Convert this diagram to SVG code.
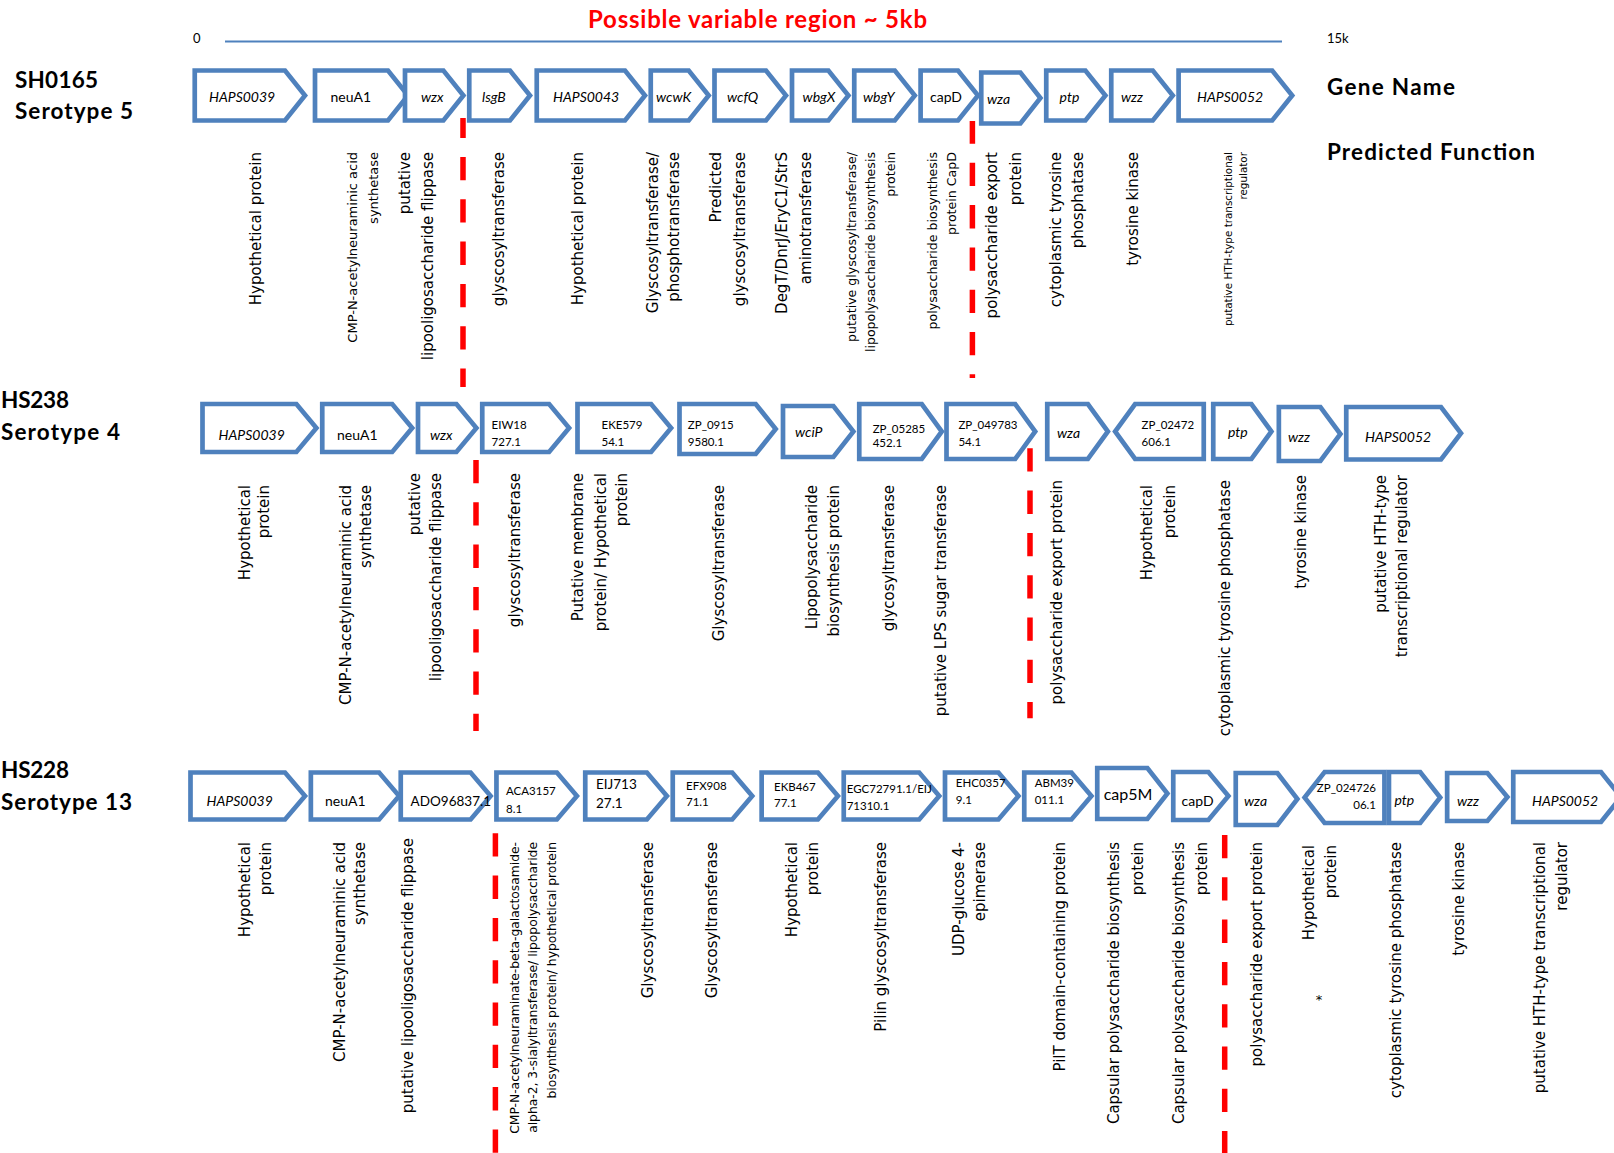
<svg xmlns="http://www.w3.org/2000/svg" width="1614" height="1153" viewBox="0 0 1614 1153">
<style>
.bg{fill:#fff}
.arr{fill:#fff;stroke:#4F81BD;stroke-width:4.7;stroke-linejoin:miter}
.gn{font-family:Lato,"Liberation Sans",sans-serif;font-size:14px;fill:#000}
.it{font-style:italic}
.id{font-size:11.5px}
.big{font-size:13.5px}
.fn{font-family:"DejaVu Sans",Verdana,sans-serif;font-size:15px;fill:#000;text-anchor:end}
.s13{font-size:13px}
.s126{font-size:12.6px}
.s123{font-size:12.3px}
.s104{font-size:10.4px}
.cut{stroke:#FF0000;stroke-width:5.5;fill:none;stroke-dasharray:23.3 19}
.hd{font-family:Lato,"Liberation Sans",sans-serif;font-weight:bold;font-size:22.5px;fill:#000}
.ax{font-family:Lato,"Liberation Sans",sans-serif;font-size:13px;fill:#000}
</style>
<rect class="bg" x="0" y="0" width="1614" height="1153"/>

<g id="header">
<text x="588" y="28" font-family="Lato, 'Liberation Sans', sans-serif" font-weight="bold" font-size="24" fill="#FF0000" textLength="339">Possible variable region ~ 5kb</text>
<text class="ax" x="193" y="43">0</text>
<text class="ax" x="1327" y="43">15k</text>
<text class="hd" x="1327" y="95" textLength="128">Gene Name</text>
<text class="hd" x="1327" y="160" textLength="208">Predicted Function</text>
<text class="hd" x="15" y="88" textLength="83">SH0165</text>
<text class="hd" x="15" y="119" textLength="118">Serotype 5</text>
<text class="hd" x="1" y="408" textLength="68">HS238</text>
<text class="hd" x="1" y="440" textLength="119">Serotype 4</text>
<text class="hd" x="1" y="778" textLength="68">HS228</text>
<text class="hd" x="1" y="810" textLength="131">Serotype 13</text>
</g>

<g id="connectors">
<line x1="225" y1="41.5" x2="1282" y2="41.5" stroke="#4F81BD" stroke-width="2"/>
<line class="cut" x1="463" y1="118" x2="463" y2="387" stroke-dashoffset="3.3"/>
<line class="cut" x1="972.4" y1="121" x2="972.4" y2="378" stroke-dashoffset="0.5"/>
<line class="cut" x1="476" y1="460" x2="476" y2="731"/>
<line class="cut" x1="1030" y1="448.3" x2="1030" y2="718.3"/>
<line class="cut" x1="495.4" y1="833.3" x2="495.4" y2="1153"/>
<line class="cut" x1="1224.7" y1="835" x2="1224.7" y2="1153"/>
</g>

<!-- Row 1 : SH0165 -->
<g id="r1-HAPS0039"><path class="arr" d="M194.75,70.5 H285 L305,95.5 L285,120.5 H194.75 Z"/><text class="gn it" x="209" y="102">HAPS0039</text><text class="fn" transform="translate(260.8,152) rotate(-90)">Hypothetical protein</text></g>
<g id="r1-neuA1"><path class="arr" d="M315,70.5 H388 L408,95.5 L388,120.5 H315 Z"/><text class="gn" x="330.5" y="102">neuA1</text><text class="fn s13" transform="translate(356.9,152) rotate(-90)">CMP-N-acetylneuraminic acid</text><text class="fn s13" transform="translate(377.8,152) rotate(-90)">synthetase</text></g>
<g id="r1-wzx"><path class="arr" d="M405,70.5 H443.4 L463.4,95.5 L443.4,120.5 H405 Z"/><text class="gn it" x="421" y="102">wzx</text><text class="fn" transform="translate(410,152) rotate(-90)">putative</text><text class="fn" transform="translate(433.4,152) rotate(-90)">lipooligosaccharide flippase</text></g>
<g id="r1-lsgB"><path class="arr" d="M469.25,70.5 H510 L530,95.5 L510,120.5 H469.25 Z"/><text class="gn it" x="482" y="102">lsgB</text><text class="fn" transform="translate(504,152) rotate(-90)">glyscosyltransferase</text></g>
<g id="r1-HAPS0043"><path class="arr" d="M536.75,70.5 H625 L645,95.5 L625,120.5 H536.75 Z"/><text class="gn it" x="553" y="102">HAPS0043</text><text class="fn" transform="translate(582.5,152) rotate(-90)">Hypothetical protein</text></g>
<g id="r1-wcwK"><path class="arr" d="M650.75,70.5 H688.7 L708.7,95.5 L688.7,120.5 H650.75 Z"/><text class="gn it" x="656" y="102">wcwK</text><text class="fn" transform="translate(658.3,152) rotate(-90)">Glyscosyltransferase/</text><text class="fn" transform="translate(679.2,152) rotate(-90)">phosphotransferase</text></g>
<g id="r1-wcfQ"><path class="arr" d="M714.5,70.5 H766 L786,95.5 L766,120.5 H714.5 Z"/><text class="gn it" x="727" y="102">wcfQ</text><text class="fn" transform="translate(721,152) rotate(-90)">Predicted</text><text class="fn" transform="translate(745,152) rotate(-90)">glyscosyltransferase</text></g>
<g id="r1-wbgX"><path class="arr" d="M792,70.5 H828.4 L848.4,95.5 L828.4,120.5 H792 Z"/><text class="gn it" x="802.6" y="102">wbgX</text><text class="fn" transform="translate(786.5,152) rotate(-90)">DegT/DnrJ/EryC1/StrS</text><text class="fn" transform="translate(810.5,152) rotate(-90)">aminotransferase</text></g>
<g id="r1-wbgY"><path class="arr" d="M854.25,70.5 H894.8 L914.8,95.5 L894.8,120.5 H854.25 Z"/><text class="gn it" x="863" y="102">wbgY</text><text class="fn s126" transform="translate(856.2,152) rotate(-90)">putative glyscosyltransferase/</text><text class="fn s126" transform="translate(875.2,152) rotate(-90)">lipopolysaccharide biosynthesis</text><text class="fn s126" transform="translate(894.7,152) rotate(-90)">protein</text></g>
<g id="r1-capD"><path class="arr" d="M920.6,70.5 H958 L978,95.5 L958,120.5 H920.6 Z"/><text class="gn" x="930" y="102">capD</text><text class="fn s126" transform="translate(936.9,152) rotate(-90)">polysaccharide biosynthesis</text><text class="fn s126" transform="translate(955.7,152) rotate(-90)">protein CapD</text></g>
<g id="r1-wza"><path class="arr" d="M981.25,72.5 H1020.4 L1040.4,98 L1020.4,123.5 H981.25 Z"/><text class="gn it" x="987" y="104">wza</text><text class="fn" transform="translate(997,152) rotate(-90)">polysaccharide export</text><text class="fn" transform="translate(1020.5,152) rotate(-90)">protein</text></g>
<g id="r1-ptp"><path class="arr" d="M1046.25,70.5 H1085.4 L1105.4,95.5 L1085.4,120.5 H1046.25 Z"/><text class="gn it" x="1059.6" y="102">ptp</text><text class="fn" transform="translate(1060.5,152) rotate(-90)">cytoplasmic tyrosine</text><text class="fn" transform="translate(1082.8,152) rotate(-90)">phosphatase</text></g>
<g id="r1-wzz"><path class="arr" d="M1111.25,70.5 H1152.8 L1172.8,95.5 L1152.8,120.5 H1111.25 Z"/><text class="gn it" x="1121" y="102">wzz</text><text class="fn" transform="translate(1138.3,152) rotate(-90)">tyrosine kinase</text></g>
<g id="r1-HAPS0052"><path class="arr" d="M1178.6,70.5 H1272.2 L1292.2,95.5 L1272.2,120.5 H1178.6 Z"/><text class="gn it" x="1197" y="102">HAPS0052</text><text class="fn s104" transform="translate(1231.7,152) rotate(-90)">putative HTH-type transcriptional</text><text class="fn s104" transform="translate(1247.4,152) rotate(-90)">regulator</text></g>

<!-- Row 2 : HS238 -->
<g id="r2-HAPS0039"><path class="arr" d="M202.5,404 H296.4 L316.4,428 L296.4,452 H202.5 Z"/><text class="gn it" x="218.6" y="440">HAPS0039</text><text class="fn" transform="translate(250.4,485) rotate(-90)">Hypothetical</text><text class="fn" transform="translate(268.7,485) rotate(-90)">protein</text></g>
<g id="r2-neuA1"><path class="arr" d="M322.25,404 H392.2 L412.2,428 L392.2,452 H322.25 Z"/><text class="gn" x="337" y="440">neuA1</text><text class="fn" transform="translate(351.3,485) rotate(-90)">CMP-N-acetylneuraminic acid</text><text class="fn" transform="translate(370.7,485) rotate(-90)">synthetase</text></g>
<g id="r2-wzx"><path class="arr" d="M418,404 H456.4 L476.4,428 L456.4,452 H418 Z"/><text class="gn it" x="430" y="440">wzx</text><text class="fn" transform="translate(420.4,473) rotate(-90)">putative</text><text class="fn" transform="translate(441.3,473) rotate(-90)">lipooligosaccharide flippase</text></g>
<g id="r2-EIW18727"><path class="arr" d="M482.25,404 H549.1 L569.1,428 L549.1,452 H482.25 Z"/><text class="gn id" x="491.6" y="429">EIW18</text><text class="gn id" x="491.6" y="446">727.1</text><text class="fn" transform="translate(519.7,473) rotate(-90)">glyscosyltransferase</text></g>
<g id="r2-EKE57954"><path class="arr" d="M577.5,404 H651.1 L671.1,428 L651.1,452 H577.5 Z"/><text class="gn id" x="601.5" y="429">EKE579</text><text class="gn id" x="601.5" y="446">54.1</text><text class="fn" transform="translate(582.5,473) rotate(-90)">Putative membrane</text><text class="fn" transform="translate(606,473) rotate(-90)">protein/ Hypothetical</text><text class="fn" transform="translate(627,473) rotate(-90)">protein</text></g>
<g id="r2-ZP09159580"><path class="arr" d="M679.5,404 H755.7 L775.7,429 L755.7,454 H679.5 Z"/><text class="gn id" x="687.8" y="429">ZP_0915</text><text class="gn id" x="687.8" y="446">9580.1</text><text class="fn" transform="translate(723.7,485) rotate(-90)">Glyscosyltransferase</text></g>
<g id="r2-wciP"><path class="arr" d="M783,406 H833.4 L853.4,431.5 L833.4,457 H783 Z"/><text class="gn it" x="795" y="437">wciP</text><text class="fn" transform="translate(817.3,485) rotate(-90)">Lipopolysaccharide</text><text class="fn" transform="translate(838.7,485) rotate(-90)">biosynthesis protein</text></g>
<g id="r2-ZP05285452"><path class="arr" d="M859.25,404 H921.8 L941.8,431.5 L921.8,459 H859.25 Z"/><text class="gn id" x="872.7" y="432.5">ZP_05285</text><text class="gn id" x="872.7" y="447">452.1</text><text class="fn" transform="translate(893.5,485) rotate(-90)">glycosyltransferase</text></g>
<g id="r2-ZP04978354"><path class="arr" d="M946.5,404 H1015.2 L1035.2,431.5 L1015.2,459 H946.5 Z"/><text class="gn id" x="958.4" y="429">ZP_049783</text><text class="gn id" x="958.4" y="446">54.1</text><text class="fn" transform="translate(945.6,485) rotate(-90)">putative LPS sugar transferase</text></g>
<g id="r2-wza"><path class="arr" d="M1047.25,404 H1087.9 L1107.9,431.5 L1087.9,459 H1047.25 Z"/><text class="gn it" x="1057" y="438">wza</text><text class="fn" transform="translate(1062,480) rotate(-90)">polysaccharide export protein</text></g>
<g id="r2-ZP02472606"><path class="arr" d="M1203.75,404 H1135.1 L1115.1,431.5 L1135.1,459 H1203.75 Z"/><text class="gn id" x="1141.6" y="429">ZP_02472</text><text class="gn id" x="1141.6" y="446">606.1</text><text class="fn" transform="translate(1151.8,485) rotate(-90)">Hypothetical</text><text class="fn" transform="translate(1174.7,485) rotate(-90)">protein</text></g>
<g id="r2-ptp"><path class="arr" d="M1213.25,404 H1251.4 L1271.4,431.5 L1251.4,459 H1213.25 Z"/><text class="gn it" x="1228" y="437">ptp</text><text class="fn" transform="translate(1229.7,480) rotate(-90)">cytoplasmic tyrosine phosphatase</text></g>
<g id="r2-wzz"><path class="arr" d="M1278.85,407 H1320.4 L1340.4,434 L1320.4,461 H1278.85 Z"/><text class="gn it" x="1288" y="442">wzz</text><text class="fn" transform="translate(1306,475) rotate(-90)">tyrosine kinase</text></g>
<g id="r2-HAPS0052"><path class="arr" d="M1346.25,407 H1441 L1461,433.25 L1441,459.5 H1346.25 Z"/><text class="gn it" x="1365" y="442">HAPS0052</text><text class="fn" transform="translate(1385.5,475) rotate(-90)">putative HTH-type</text><text class="fn" transform="translate(1407.3,475) rotate(-90)">transcriptional regulator</text></g>

<!-- Row 3 : HS228 -->
<g id="r3-HAPS0039"><path class="arr" d="M190.5,772.5 H285 L305,796 L285,819.5 H190.5 Z"/><text class="gn it" x="206.6" y="806">HAPS0039</text><text class="fn" transform="translate(250.4,842) rotate(-90)">Hypothetical</text><text class="fn" transform="translate(271.3,842) rotate(-90)">protein</text></g>
<g id="r3-neuA1"><path class="arr" d="M310.85,772.5 H379.1 L399.1,796 L379.1,819.5 H310.85 Z"/><text class="gn" x="325" y="806">neuA1</text><text class="fn" transform="translate(344.5,842) rotate(-90)">CMP-N-acetylneuraminic acid</text><text class="fn" transform="translate(365.4,842) rotate(-90)">synthetase</text></g>
<g id="r3-ADO968371"><path class="arr" d="M400.75,772.5 H470.6 L490.6,796 L470.6,819.5 H400.75 Z"/><text class="gn big" x="410.6" y="806">ADO96837.1</text><text class="fn" transform="translate(412.5,838) rotate(-90)">putative lipooligosaccharide flippase</text></g>
<g id="r3-ACA31578"><path class="arr" d="M496.45,772.5 H556.9 L576.9,796 L556.9,819.5 H496.45 Z"/><text class="gn id" x="506" y="795">ACA3157</text><text class="gn id" x="506" y="813">8.1</text><text class="fn s123" transform="translate(518.7,842) rotate(-90)">CMP-N-acetylneuraminate-beta-galactosamide-</text><text class="fn s123" transform="translate(537,842) rotate(-90)">alpha-2, 3-sialyltransferase/ lipopolysaccharide</text><text class="fn s123" transform="translate(556.4,842) rotate(-90)">biosynthesis protein/ hypothetical protein</text></g>
<g id="r3-EIJ71327"><path class="arr" d="M585.25,772.5 H646.9 L666.9,796 L646.9,819.5 H585.25 Z"/><text class="gn big" x="596" y="789">EIJ713</text><text class="gn big" x="596" y="808">27.1</text><text class="fn" transform="translate(653,842) rotate(-90)">Glyscosyltransferase</text></g>
<g id="r3-EFX90871"><path class="arr" d="M672.75,772.5 H732.2 L752.2,796 L732.2,819.5 H672.75 Z"/><text class="gn id" x="686" y="790">EFX908</text><text class="gn id" x="686" y="806">71.1</text><text class="fn" transform="translate(717.4,842) rotate(-90)">Glyscosyltransferase</text></g>
<g id="r3-EKB46777"><path class="arr" d="M761.65,772.5 H817.9 L837.9,796 L817.9,819.5 H761.65 Z"/><text class="gn id" x="774" y="791">EKB467</text><text class="gn id" x="774" y="807">77.1</text><text class="fn" transform="translate(797,842) rotate(-90)">Hypothetical</text><text class="fn" transform="translate(817.8,842) rotate(-90)">protein</text></g>
<g id="r3-EGC72791"><path class="arr" d="M843.75,772.5 H919.2 L939.2,796 L919.2,819.5 H843.75 Z"/><text class="gn id" x="846.7" y="793">EGC72791.1/EIJ</text><text class="gn id" x="846.7" y="810">71310.1</text><text class="fn" transform="translate(885.7,842) rotate(-90)">Pilin glyscosyltransferase</text></g>
<g id="r3-EHC03579"><path class="arr" d="M945,772.5 H998.4 L1018.4,796 L998.4,819.5 H945 Z"/><text class="gn id" x="955.8" y="787">EHC0357</text><text class="gn id" x="955.8" y="804">9.1</text><text class="fn" transform="translate(964,842) rotate(-90)">UDP-glucose 4-</text><text class="fn" transform="translate(984.6,842) rotate(-90)">epimerase</text></g>
<g id="r3-ABM39011"><path class="arr" d="M1024.25,772.5 H1071.4 L1091.4,796 L1071.4,819.5 H1024.25 Z"/><text class="gn id" x="1034.7" y="787">ABM39</text><text class="gn id" x="1034.7" y="804">011.1</text><text class="fn" transform="translate(1064.6,842) rotate(-90)">PilT domain-containing protein</text></g>
<g id="r3-cap5M"><path class="arr" d="M1097.25,768 H1147.4 L1167.4,793.5 L1147.4,819 H1097.25 Z"/><text class="gn" style="font-size:16px" x="1103.7" y="800">cap5M</text><text class="fn" transform="translate(1119,842) rotate(-90)">Capsular polysaccharide biosynthesis</text><text class="fn" transform="translate(1142.5,842) rotate(-90)">protein</text></g>
<g id="r3-capD"><path class="arr" d="M1173.25,772 H1208.4 L1228.4,796 L1208.4,820 H1173.25 Z"/><text class="gn" x="1181.6" y="806">capD</text><text class="fn" transform="translate(1184,842) rotate(-90)">Capsular polysaccharide biosynthesis</text><text class="fn" transform="translate(1207.4,842) rotate(-90)">protein</text></g>
<g id="r3-wza"><path class="arr" d="M1235.75,773 H1277.4 L1297.4,799 L1277.4,825 H1235.75 Z"/><text class="gn it" x="1244" y="806">wza</text><text class="fn" transform="translate(1262,842) rotate(-90)">polysaccharide export protein</text></g>
<g id="r3-ZP02472606"><path class="arr" d="M1384.45,772 H1324.6 L1304.6,797.5 L1324.6,823 H1384.45 Z"/><text class="gn id" x="1376" y="792" text-anchor="end">ZP_024726</text><text class="gn id" x="1376" y="809" text-anchor="end">06.1</text><text class="fn" transform="translate(1313.8,845) rotate(-90)">Hypothetical</text><text class="fn" transform="translate(1335.6,845) rotate(-90)">protein</text><text x="1319" y="1004" font-family="DejaVu Sans, sans-serif" font-size="13" text-anchor="middle">*</text></g>
<g id="r3-ptp"><path class="arr" d="M1388.95,772 H1420.2 L1440.2,797.5 L1420.2,823 H1388.95 Z"/><text class="gn it" x="1394.5" y="805">ptp</text><text class="fn" transform="translate(1401,842) rotate(-90)">cytoplasmic tyrosine phosphatase</text></g>
<g id="r3-wzz"><path class="arr" d="M1447.15,773 H1487.4 L1507.4,797 L1487.4,821 H1447.15 Z"/><text class="gn it" x="1457" y="806">wzz</text><text class="fn" transform="translate(1464.4,842) rotate(-90)">tyrosine kinase</text></g>
<g id="r3-HAPS0052"><path class="arr" d="M1513.25,772 H1601 L1621,797 L1601,822 H1513.25 Z"/><text class="gn it" x="1532" y="806">HAPS0052</text><text class="fn" transform="translate(1545,842) rotate(-90)">putative HTH-type transcriptional</text><text class="fn" transform="translate(1567.2,842) rotate(-90)">regulator</text></g>
</svg>
